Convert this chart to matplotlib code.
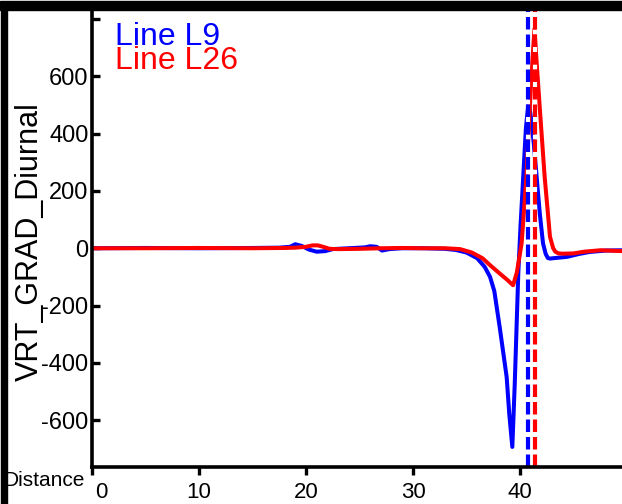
import matplotlib
matplotlib.use("Agg")
import matplotlib.pyplot as plt
from matplotlib.patches import Rectangle
import matplotlib.transforms as mtransforms

plt.rcParams['font.family'] = ['Liberation Sans', 'DejaVu Sans']
plt.rcParams['axes.unicode_minus'] = False

# ---- data ----
dist_l9 = [0, 5, 10, 15, 17.5, 18.5, 19.0, 19.6, 20.3, 21.0, 21.8, 22.5, 24, 25.5, 26.0,
           26.6, 27.1, 27.8, 29, 31, 33, 34, 35, 36, 36.7, 37.2, 37.6, 38.1, 38.75, 39.0,
           39.28, 39.5, 39.84, 40.05, 40.3, 40.55, 40.8, 41.05, 41.3, 41.55, 41.85, 42.15,
           42.4, 42.6, 42.8, 43.3, 44.4, 45.5, 46.5, 48, 49.6]
val_l9 = [0, 1, 0, 1, 2, 5, 14, 8, -5, -12, -10, -3, 0, 3, 7,
          5, -8, -3, 0, 0, -2, -6, -15, -35, -65, -100, -150, -275, -449, -580,
          -693, -480, -86, 80, 250, 420, 510, 450, 360, 250, 120, 17,
          -20, -34, -36, -34, -30, -20, -13, -8, -7]

dist_l26 = [0, 5, 10, 15, 18, 19, 20.0, 20.6, 21.1, 21.6, 22.2, 23, 25, 27, 29, 31, 33,
            34.4, 35.5, 36.5, 37.2, 38.1, 38.8, 39.35, 39.7, 40.15, 40.6, 40.9, 41.15,
            41.35, 41.55, 41.86, 42.3, 42.8, 43.1, 43.3, 43.6, 44, 45, 46, 47.5, 49.6]
val_l26 = [0, 0, 1, 0, 1, 2, 5, 10, 10, 5, -2, -3, -2, 0, 1, 0, 0,
           -3, -15, -35, -59, -88, -110, -129, -85, 17, 250, 482, 650,
           765, 650, 482, 250, 40, 0, -12, -18, -19, -18, -12, -7, -10]

vline_l9 = 40.75
vline_l26 = 41.38

series_names = ["Line L9", "Line L26"]
colors = ["#0000ff", "#ff0000"]

xticks = [0, 10, 20, 30, 40]
yticks = [-600, -400, -200, 0, 200, 400, 600, 800]
ytick_labels = ["-600", "-400", "-200", "0", "200", "400", "600", ""]

# ---- figure ----
W, H = 622, 504
fig = plt.figure(figsize=(W / 100, H / 100), dpi=100)
ax = fig.add_axes([92 / W, 1 - 467 / H, 530 / W, (467 - 10) / H])

ax.plot(dist_l9, val_l9, color=colors[0], lw=2.9, solid_joinstyle='round')
ax.plot(dist_l26, val_l26, color=colors[1], lw=2.9, solid_joinstyle='round')
ax.axvline(vline_l9, color=colors[0], lw=3, linestyle=(0, (3, 1.2)), gapcolor='white')
ax.axvline(vline_l26, color=colors[1], lw=3, linestyle=(0, (3, 1.2)), gapcolor='white')

ax.set_xlim(0, 49.53)
ax.set_ylim(-763, 831)

for s in ['top', 'right']:
    ax.spines[s].set_visible(False)
for s in ['left', 'bottom']:
    ax.spines[s].set_linewidth(2.6)

ax.set_xticks(xticks)
ax.set_yticks(yticks)
ax.set_yticklabels(ytick_labels)
ax.tick_params(axis='y', direction='in', length=6, width=2.4, pad=2.5, labelsize=17)
ax.tick_params(axis='x', direction='out', length=6, width=2.4, pad=5, labelsize=16)

# shift first x label a bit right as in the reference
lbl0 = ax.get_xticklabels()[0]
lbl0.set_transform(lbl0.get_transform() + mtransforms.ScaledTranslation(9 / 100, 0, fig.dpi_scale_trans))

fig.text(30 / W, 1 - 242 / H, "VRT_GRAD_Diurnal", rotation=90, ha='center', va='center',
         fontsize=22)
fig.text(3 / W, 1 - 481 / H, "Distance", ha='left', va='center', fontsize=15)

fig.text(115 / W, 1 - 45 / H, series_names[0], color=colors[0], fontsize=23, va='baseline', ha='left')
fig.text(115 / W, 1 - 69 / H, series_names[1], color=colors[1], fontsize=23, va='baseline', ha='left')

# frame bars
fig.patches.append(Rectangle((0, 1 - 9.5 / H), 1, 8 / H, transform=fig.transFigure,
                             color='black', zorder=10))
fig.patches.append(Rectangle((0.5 / W, 0), 6 / W, 1 - 2 / H, transform=fig.transFigure,
                             color='black', zorder=10))

fig.savefig("out.png", dpi=100)
